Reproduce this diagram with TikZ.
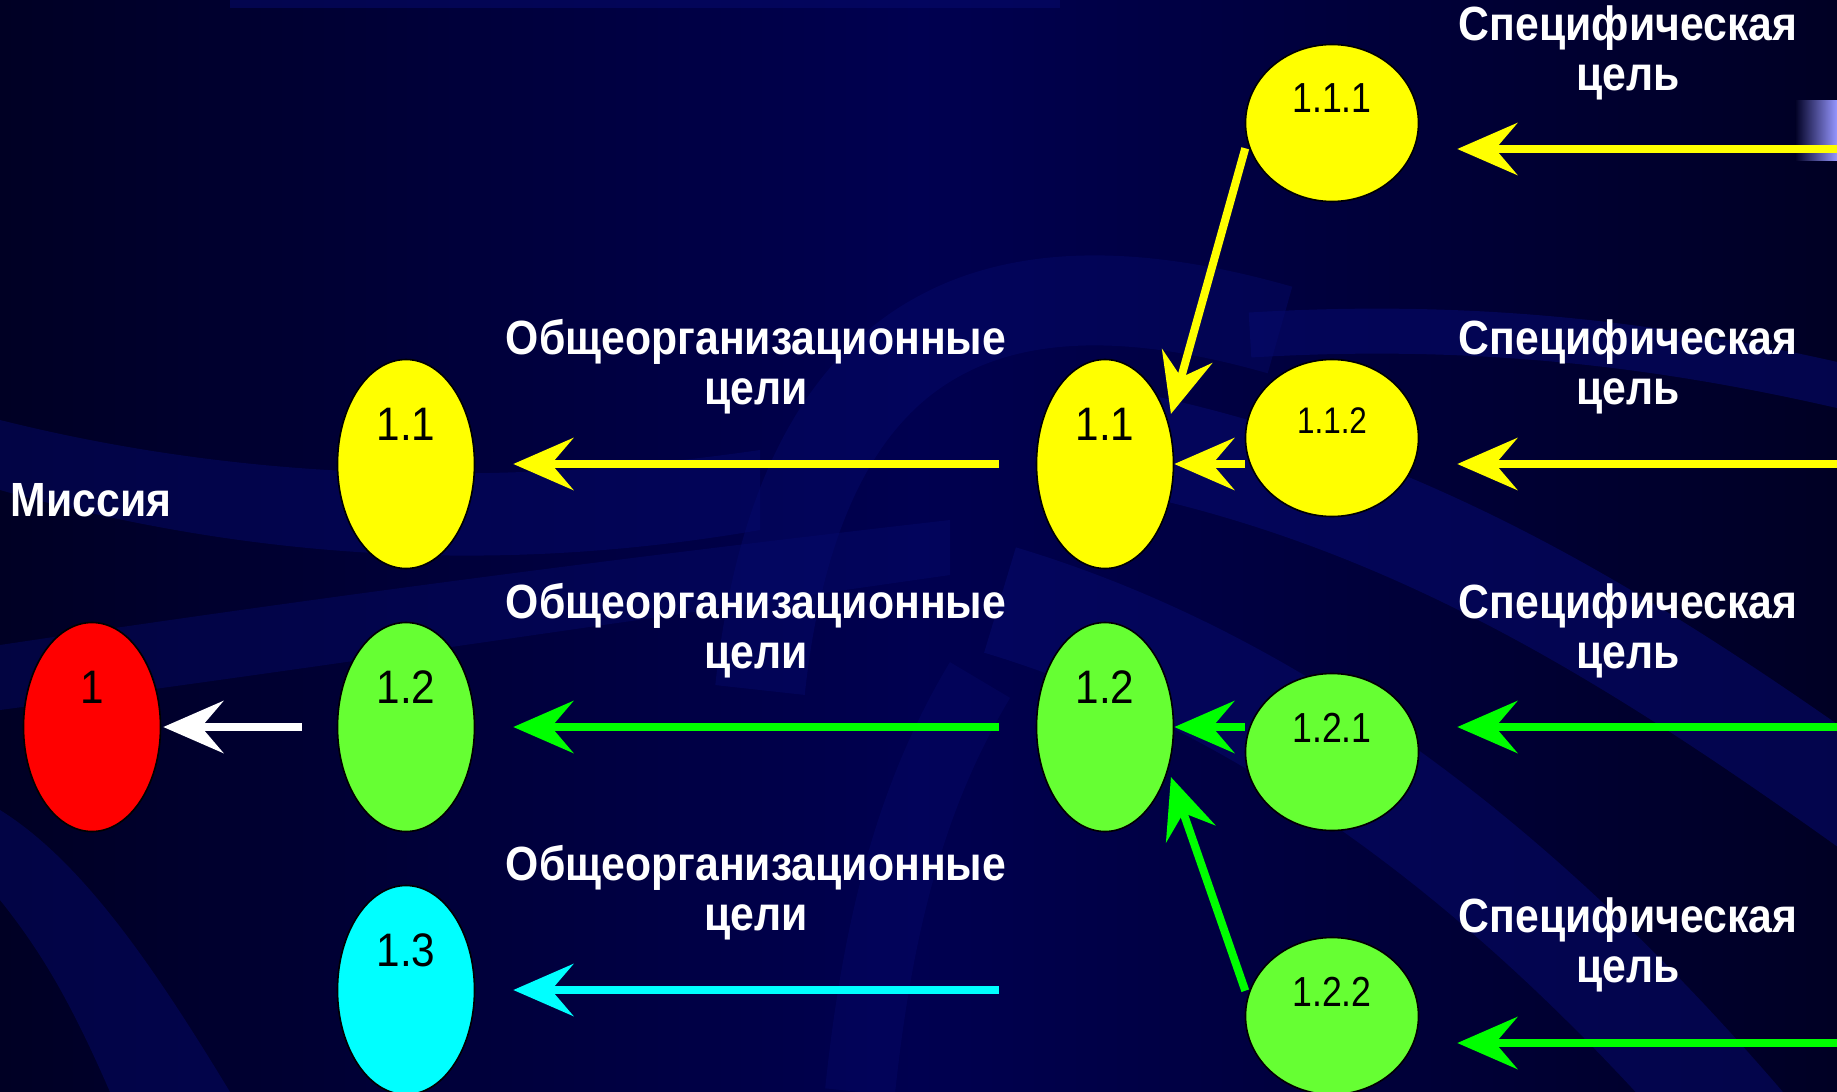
\documentclass[tikz,border=0pt]{standalone}
\usepackage{fontspec}
\setmainfont{Liberation Sans}
\newfontfamily\hdrfont[FakeStretch=0.89]{Liberation Sans}
\newfontfamily\numfont[FakeStretch=0.9]{Liberation Sans}
\newfontfamily\subfont[FakeStretch=0.85]{Liberation Sans}
\usetikzlibrary{shapes.geometric,arrows.meta,calc}
\pgfdeclarelayer{backdrop}
\pgfdeclarelayer{links}
\pgfsetlayers{backdrop,links,main}
\definecolor{bgdark}{RGB}{0,0,36}
\definecolor{bgmid}{RGB}{0,0,80}
\definecolor{bandc}{RGB}{6,10,110}
\definecolor{yell}{RGB}{255,255,0}
\definecolor{lgreen}{RGB}{102,255,51}
\definecolor{agreen}{RGB}{0,255,0}
\definecolor{cyanc}{RGB}{0,255,255}
\definecolor{redc}{RGB}{255,0,0}
\definecolor{lilac}{RGB}{150,150,255}
\tikzset{
  goal/.style={ellipse, draw=black, line width=1.6pt, minimum width=137pt, minimum height=209pt, inner sep=0pt},
  subgoal/.style={ellipse, draw=black, line width=1.6pt, minimum width=173pt, minimum height=157pt, inner sep=0pt},
  numtxt/.style={text=black, inner sep=0pt, font=\numfont\fontsize{47}{47}\selectfont},
  subtxt/.style={text=black, inner sep=0pt, font=\subfont\fontsize{42}{42}\selectfont},
  hdr/.style={text=white, align=center, inner sep=0pt, font=\hdrfont\bfseries\fontsize{48}{50}\selectfont},
  conn/.style={line width=8pt, -{Stealth[length=60pt,width=52pt,inset=22pt]}},
  bandline/.style={draw=bandc, line cap=butt}
}
\begin{document}
\begin{tikzpicture}[x=1pt,y=-1pt]
\useasboundingbox (0,0) rectangle (1837,1092);
% ---------- background ----------
\begin{pgfonlayer}{backdrop}
\shade[left color=bgdark, right color=bgdark, middle color=bgmid] (0,0) rectangle (1837,1092);
\fill[bandc, opacity=0.45] (0,420) .. controls (200,470) and (450,495) .. (760,450) -- (760,530) .. controls (500,575) and (250,560) .. (0,490) -- cycle;
\fill[bandc, opacity=0.4] (0,645) .. controls (300,600) and (600,560) .. (950,520) -- (950,575) .. controls (600,625) and (300,670) .. (0,710) -- cycle;
\fill[bandc, opacity=0.45] (0,810) .. controls (80,860) and (150,960) .. (230,1092) -- (110,1092) .. controls (70,1000) and (40,950) .. (0,900) -- cycle;
\draw[bandline, opacity=0.4, line width=90pt] (760,690) .. controls (800,320) and (1000,250) .. (1280,330);
\draw[bandline, opacity=0.55, line width=45pt] (1250,335) .. controls (1500,320) and (1700,350) .. (1900,400);
\draw[bandline, opacity=0.55, line width=100pt] (1120,440) .. controls (1420,500) and (1650,650) .. (1900,830);
\draw[bandline, opacity=0.5, line width=110pt] (1000,600) .. controls (1300,690) and (1550,900) .. (1760,1150);
\draw[bandline, opacity=0.35, line width=70pt] (860,1092) .. controls (880,900) and (920,780) .. (980,680);
\draw[bandline, opacity=0.5, line width=16pt] (230,0) -- (1060,0);
\shade[left color=bgdark, right color=lilac] (1795,100) rectangle (1837,160);
\end{pgfonlayer}
% ---------- ellipses ----------
\node[goal, fill=redc]   (m1)  at (92,727)  {};
\node[goal, fill=yell]   (g11) at (406,464) {};
\node[goal, fill=lgreen] (g12) at (406,727) {};
\node[goal, fill=cyanc]  (g13) at (406,990) {};
\node[goal, fill=yell]   (h11) at (1105,464) {};
\node[goal, fill=lgreen] (h12) at (1105,727) {};
\node[subgoal, fill=yell]   (s111) at (1332,123)  {};
\node[subgoal, fill=yell]   (s112) at (1332,438)  {};
\node[subgoal, fill=lgreen] (s121) at (1332,752)  {};
\node[subgoal, fill=lgreen] (s122) at (1332,1016) {};
% numbers
\node[numtxt] (t1)   at (92,687)  {1};
\node[numtxt] (t11)  at (406,424) {1.1};
\node[numtxt] (t12)  at (406,687) {1.2};
\node[numtxt] (t13)  at (406,950) {1.3};
\node[numtxt] (u11)  at (1105,424) {1.1};
\node[numtxt] (u12)  at (1105,687) {1.2};
\node[subtxt] (v111) at (1332,98)  {1.1.1};
\node[subtxt, font=\subfont\fontsize{37}{37}\selectfont] (v112) at (1332,421) {1.1.2};
\node[subtxt] (v121) at (1332,728) {1.2.1};
\node[subtxt] (v122) at (1332,992) {1.2.2};
% ---------- labels ----------
\node[hdr] (mis) at (91,500) {Миссия};
\node[hdr] (o1) at (756,367) {Общеорганизационные\\цели};
\node[hdr] (o2) at (756,631) {Общеорганизационные\\цели};
\node[hdr] (o3) at (756,893) {Общеорганизационные\\цели};
\node[hdr] (c1) at (1628,53)  {Специфическая\\цель};
\node[hdr] (c2) at (1628,367) {Специфическая\\цель};
\node[hdr] (c3) at (1628,631) {Специфическая\\цель};
\node[hdr] (c4) at (1628,945) {Специфическая\\цель};
% free ends at the right edge
\coordinate (r1) at (1837,149);
\coordinate (r2) at (1837,464);
\coordinate (r3) at (1837,727);
\coordinate (r4) at (1837,1043);
% ---------- connectors ----------
\begin{pgfonlayer}{links}
\draw[conn, white, shorten <=35pt, shorten >=2pt] (g12.west) -- (m1.east);
\draw[conn, yell, shorten <=37pt, shorten >=38pt] (h11.west) -- (g11.east);
\draw[conn, agreen, shorten <=37pt, shorten >=38pt] (h12.west) -- (g12.east);
\draw[conn, cyanc, shorten <=37pt, shorten >=38pt] (h12.west |- g13) -- (g13.east);
\draw[conn, yell] (s112.west |- h11) -- (h11.east);
\draw[conn, agreen] (s121.west |- h12) -- (h12.east);
\draw[conn, yell] ([xshift=-4pt]s111.197) -- ([shift={(3,-6)}]h11.35);
\draw[conn, agreen] ([xshift=-4pt]s122.163) -- ([shift={(3,6)}]h12.-35);
\draw[conn, yell, shorten >=38pt] (r1) -- (s111.east |- r1);
\draw[conn, yell, shorten >=38pt] (r2) -- (s112.east |- r2);
\draw[conn, agreen, shorten >=38pt] (r3) -- (s121.east |- r3);
\draw[conn, agreen, shorten >=38pt] (r4) -- (s122.east |- r4);
\end{pgfonlayer}
\end{tikzpicture}
\end{document}
